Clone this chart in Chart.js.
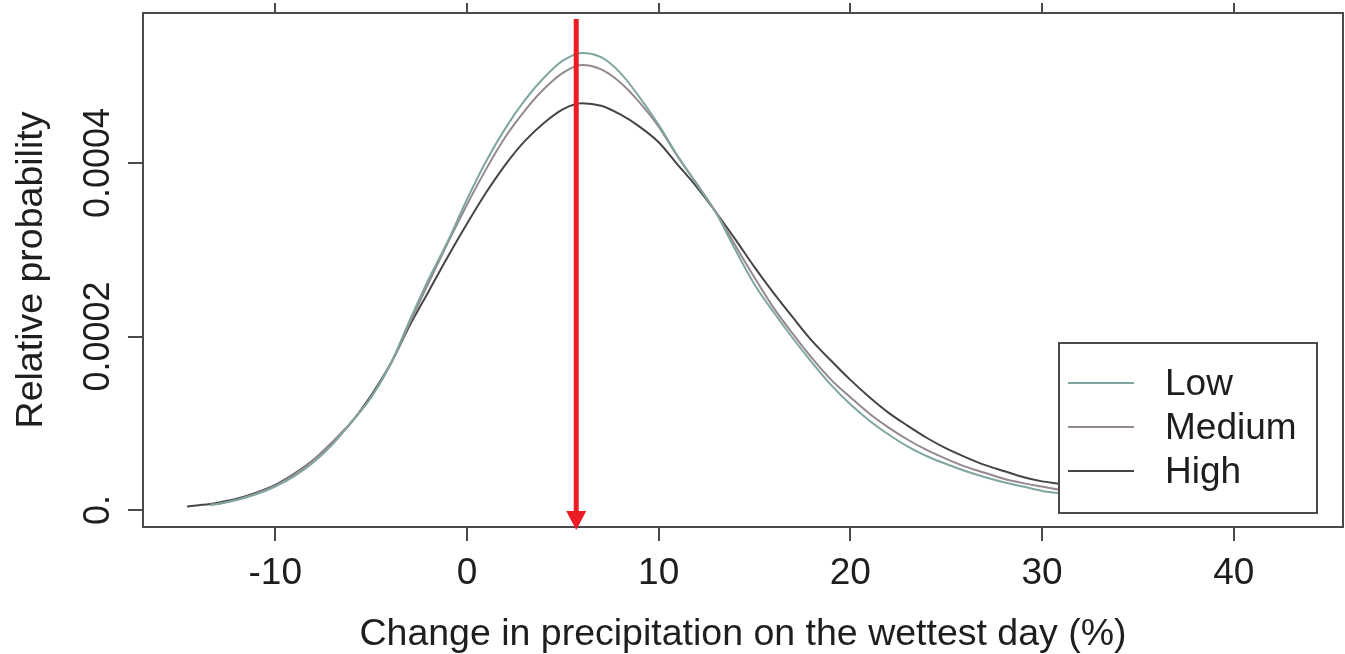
<!DOCTYPE html>
<html>
<head>
<meta charset="utf-8">
<script src="https://cdn.jsdelivr.net/npm/chart.js@4/dist/chart.umd.min.js"></script>
<style>
  html, body { margin: 0; padding: 0; background: #fff; }
  canvas { display: block; }
</style>
</head>
<body>
<canvas id="grafico" width="1345" height="654"></canvas>
<script>
// valores
const xs = [-14.6, -14, -13.4, -13, -12, -11, -10, -9, -8, -7, -6, -5, -4, -3, -2, -1,
  0, 1, 2, 3, 4, 5, 6, 7, 8, 9, 10, 11, 12, 13, 14, 15, 16, 17, 18, 19, 20,
  21, 22, 23, 24, 25, 26, 27, 28, 29, 30, 31, 32, 33, 34, 36, 38, 40, 42];

const lowVals = [null, null, 0.000006, 0.000007, 0.0000115, 0.000018, 0.000027, 0.000039, 0.000055, 0.000076, 0.000102, 0.00013, 0.000168, 0.000218, 0.000266, 0.00031,
  0.000358, 0.000402, 0.00044, 0.000472, 0.000498, 0.000518, 0.000527, 0.000522, 0.000504, 0.000476, 0.000444, 0.000408, 0.000375, 0.000342, 0.0003, 0.00026, 0.000228, 0.000198, 0.00017, 0.000144, 0.000122,
  0.000103, 0.000087, 0.000073, 0.000062, 0.000053, 0.000045, 0.000038, 0.000032, 0.000027, 0.000022, 0.000019, 0.000016, 0.000013, 0.000011, 0.000007, 0.000005, 0.000003, 0.000002];

const mediumVals = [null, null, 0.000006, 0.000007, 0.000012, 0.000019, 0.000028, 0.000041, 0.000058, 0.000079, 0.000102, 0.00013, 0.000167, 0.000215, 0.000262, 0.000308,
  0.000352, 0.000393, 0.00043, 0.00046, 0.000485, 0.000504, 0.000513, 0.000508, 0.000493, 0.00047, 0.000442, 0.000407, 0.000376, 0.000343, 0.000305, 0.000268, 0.000233, 0.000203, 0.000175, 0.00015, 0.00013,
  0.000111, 0.000095, 0.000081, 0.000069, 0.000059, 0.00005, 0.000043, 0.000036, 0.000031, 0.000027, 0.000023, 0.00002, 0.000017, 0.000014, 0.00001, 0.000007, 0.000005, 0.000003];

const highVals = [0.000004, 0.0000055, 0.000007, 0.0000085, 0.000013, 0.00002, 0.000029, 0.000042, 0.000058, 0.000078, 0.000102, 0.000132, 0.000168, 0.000212, 0.000252, 0.000292,
  0.00033, 0.000366, 0.000398, 0.000425, 0.000446, 0.000462, 0.000469, 0.000466, 0.000456, 0.000442, 0.000424, 0.000398, 0.000372, 0.000343, 0.000312, 0.00028, 0.00025, 0.000222, 0.000195, 0.000172, 0.00015,
  0.00013, 0.000112, 0.000097, 0.000083, 0.000071, 0.000061, 0.000052, 0.000045, 0.000038, 0.000033, 0.00003, 0.000025, 0.000021, 0.000018, 0.000013, 0.000009, 0.000006, 0.000004];

const seriesNames = ['Low', 'Medium', 'High'];
const seriesColors = ['#7fa6a0', '#958890', '#454545'];

const xTicks = [-10, 0, 10, 20, 30, 40];
const yTicks = [0, 0.0002, 0.0004];
const yTickLabels = ['0.', '0.0002', '0.0004'];

const xTitle = 'Change in precipitation on the wettest day (%)';
const yTitle = 'Relative probability';

// posição da seta vermelha (eixo x)
const setaX = 5.7;

const fonte = 'Liberation Sans, Arial, sans-serif';
const corTexto = '#1e1e1e';
const corEixo = '#4a4a4a';

function pontos(vals) {
    return xs.map(function(x, i) { return { x: x, y: vals[i] }; });
}

// caixa do gráfico + legenda
const pluginCaixa = {
    id: 'caixa',
    afterDatasetsDraw(chart) {
        const ctx = chart.ctx;
        const a = chart.chartArea;
        ctx.save();
        ctx.strokeStyle = corEixo;
        ctx.lineWidth = 2;
        ctx.strokeRect(a.left, a.top, a.right - a.left, a.bottom - a.top);

        // legenda
        const lx = a.right - 284, ly = a.bottom - 184, lw = 258, lh = 170;
        ctx.fillStyle = '#fff';
        ctx.fillRect(lx, ly, lw, lh);
        ctx.strokeRect(lx, ly, lw, lh);
        ctx.font = '37px ' + fonte;
        ctx.textBaseline = 'middle';
        ctx.textAlign = 'left';
        chart.data.datasets.forEach(function(ds, i) {
            const yy = ly + 40 + i * 44;
            ctx.strokeStyle = ds.borderColor;
            ctx.lineWidth = 2;
            ctx.beginPath();
            ctx.moveTo(lx + 9, yy);
            ctx.lineTo(lx + 75, yy);
            ctx.stroke();
            ctx.fillStyle = corTexto;
            ctx.fillText(ds.label, lx + 106, yy + 2);
        });
        ctx.restore();
    },
    afterDraw(chart) {
        const ctx = chart.ctx;
        const a = chart.chartArea;
        const sy = chart.scales.y;
        ctx.save();
        // rótulos do eixo y (rotacionados)
        ctx.font = '36px ' + fonte;
        ctx.fillStyle = corTexto;
        ctx.textAlign = 'center';
        ctx.textBaseline = 'alphabetic';
        yTicks.forEach(function(v, i) {
            ctx.save();
            ctx.translate(109, sy.getPixelForValue(v));
            ctx.rotate(-Math.PI / 2);
            ctx.fillText(yTickLabels[i], 0, 0);
            ctx.restore();
        });

        // seta vermelha
        const px = chart.scales.x.getPixelForValue(setaX);
        const topo = a.top + 6;
        const ponta = a.bottom + 3;
        ctx.strokeStyle = '#ec1c24';
        ctx.fillStyle = '#ec1c24';
        ctx.lineWidth = 5;
        ctx.beginPath();
        ctx.moveTo(px, topo);
        ctx.lineTo(px, ponta - 16);
        ctx.stroke();
        ctx.beginPath();
        ctx.moveTo(px - 10, ponta - 19);
        ctx.lineTo(px + 10, ponta - 19);
        ctx.lineTo(px, ponta);
        ctx.closePath();
        ctx.fill();
        ctx.restore();
    }
};

function plotar() {
    const ctx = document.getElementById('grafico').getContext('2d');
    new Chart(ctx, {
        type: 'line',
        data: {
            datasets: [
                { label: seriesNames[0], data: pontos(lowVals), borderColor: seriesColors[0] },
                { label: seriesNames[1], data: pontos(mediumVals), borderColor: seriesColors[1] },
                { label: seriesNames[2], data: pontos(highVals), borderColor: seriesColors[2] }
            ]
        },
        options: {
            responsive: false,
            animation: false,
            parsing: false,
            layout: { padding: { top: 0, right: 2, left: 0, bottom: 0 } },
            elements: {
                point: { radius: 0 },
                line: { borderWidth: 2, fill: false, cubicInterpolationMode: 'monotone' }
            },
            plugins: {
                legend: { display: false },
                tooltip: { enabled: false }
            },
            scales: {
                x: {
                    type: 'linear',
                    position: 'bottom',
                    min: -16.9,
                    max: 45.7,
                    afterBuildTicks: function(s) { s.ticks = xTicks.map(function(v) { return { value: v }; }); },
                    afterFit: function(s) { s.height = 127; },
                    border: { display: false },
                    grid: { drawOnChartArea: false, drawTicks: true, tickLength: 14, color: corEixo, lineWidth: 2 },
                    ticks: { font: { family: fonte, size: 37 }, color: corTexto, padding: 11, maxRotation: 0, autoSkip: false },
                    title: { display: true, text: xTitle, font: { family: fonte, size: 37.5, lineHeight: 1 }, color: corTexto, padding: { top: 0, bottom: 1 } }
                },
                xTopo: {
                    type: 'linear',
                    position: 'top',
                    min: -16.9,
                    max: 45.7,
                    afterBuildTicks: function(s) { s.ticks = xTicks.map(function(v) { return { value: v }; }); },
                    afterFit: function(s) { s.height = 13; },
                    border: { display: false },
                    grid: { drawOnChartArea: false, drawTicks: true, tickLength: 10, color: corEixo, lineWidth: 2 },
                    ticks: { display: false }
                },
                y: {
                    type: 'linear',
                    min: -0.0000196,
                    max: 0.000573,
                    afterBuildTicks: function(s) { s.ticks = yTicks.map(function(v) { return { value: v }; }); },
                    afterFit: function(s) { s.width = 143; },
                    border: { display: false },
                    grid: { drawOnChartArea: false, drawTicks: true, tickLength: 15, color: corEixo, lineWidth: 2 },
                    ticks: { display: false },
                    title: { display: true, text: yTitle, font: { family: fonte, size: 37.5, lineHeight: 1 }, color: corTexto, padding: { top: 13, bottom: 0 } }
                }
            }
        },
        plugins: [pluginCaixa]
    });
}

plotar();
</script>
</body>
</html>
